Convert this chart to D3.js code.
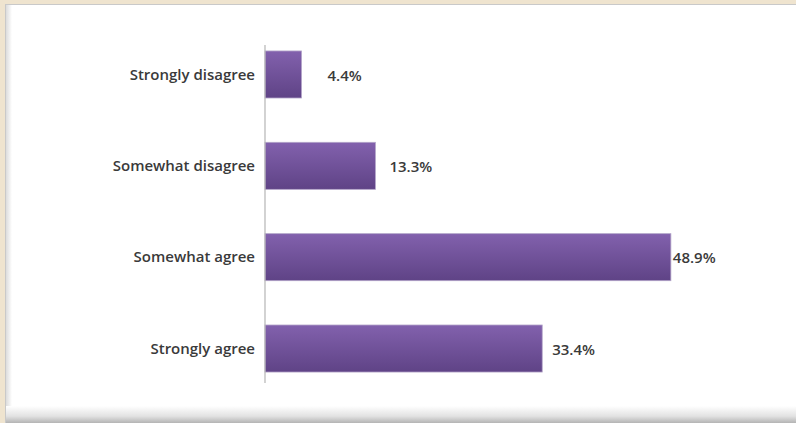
<!DOCTYPE html>
<html>
<head>
<meta charset="utf-8">
<script src="https://cdn.jsdelivr.net/npm/d3@7"></script>
<style>
  html, body { margin: 0; padding: 0; background: #efe4cf; }
  svg { display: block; }
  .cat, .val { font-family: "Open Sans", "Noto Sans", sans-serif; font-weight: 600; fill: #3a3a3a; }
</style>
</head>
<body>
<svg id="chart" width="796" height="423"></svg>
<script>
// Survey responses, share of respondents (%)
const categories = ["Strongly disagree", "Somewhat disagree", "Somewhat agree", "Strongly agree"];
const shares = [4.4, 13.3, 48.9, 33.4];
const valueLabels = ["4.4%", "13.3%", "48.9%", "33.4%"];
// horizontal gap between bar end and its value label (px)
const labelGap = [26, 14, 2, 10];

const W = 796, H = 423;
const svg = d3.select("#chart");
const defs = svg.append("defs");

// bar fill: lighter violet at the top fading to deeper violet
const barGrad = defs.append("linearGradient").attr("id", "barGrad")
  .attr("x1", 0).attr("y1", 0).attr("x2", 0).attr("y2", 1);
barGrad.append("stop").attr("offset", "0%").attr("stop-color", "#8261ad");
barGrad.append("stop").attr("offset", "100%").attr("stop-color", "#5f4386");

// shadow along the bottom of the panel
const shadeGrad = defs.append("linearGradient").attr("id", "shadeGrad")
  .attr("x1", 0).attr("y1", 0).attr("x2", 0).attr("y2", 1);
shadeGrad.append("stop").attr("offset", "0%").attr("stop-color", "#ffffff");
shadeGrad.append("stop").attr("offset", "60%").attr("stop-color", "#e2e2e2");
shadeGrad.append("stop").attr("offset", "100%").attr("stop-color", "#b4b4b4");

// left inner shading of the panel
const leftGrad = defs.append("linearGradient").attr("id", "leftGrad")
  .attr("x1", 0).attr("y1", 0).attr("x2", 1).attr("y2", 0);
leftGrad.append("stop").attr("offset", "0%").attr("stop-color", "#dcdcdc");
leftGrad.append("stop").attr("offset", "100%").attr("stop-color", "#ffffff");

// panel
svg.append("rect").attr("x", 5).attr("y", 4).attr("width", W - 5).attr("height", H - 4)
  .attr("fill", "#c9c9c9");
svg.append("rect").attr("x", 6).attr("y", 5).attr("width", W - 6).attr("height", H - 5)
  .attr("fill", "#ffffff");
svg.append("rect").attr("x", 6).attr("y", 5).attr("width", 6).attr("height", 405)
  .attr("fill", "url(#leftGrad)");
svg.append("rect").attr("x", 6).attr("y", 406).attr("width", W - 6).attr("height", H - 406)
  .attr("fill", "url(#shadeGrad)");

// scales
const x = d3.scaleLinear().domain([0, 50]).range([265, 680]);
const y = d3.scaleBand().domain(categories).range([40, 383])
  .paddingInner(0.485).paddingOuter(0.12);

// bars
svg.append("g").selectAll("rect").data(categories).join("rect")
  .attr("x", x(0))
  .attr("y", d => y(d))
  .attr("width", (d, i) => x(shares[i]) - x(0))
  .attr("height", y.bandwidth())
  .attr("fill", "url(#barGrad)")
  .attr("stroke", "#b3a5c9")
  .attr("stroke-width", 0.8);

// category axis
const yAxis = svg.append("g").attr("transform", `translate(${x(0)},0)`)
  .call(d3.axisLeft(y).tickSize(0).tickPadding(10));
yAxis.select(".domain").remove();
yAxis.selectAll("text").attr("class", "cat").attr("font-size", 15)
  .attr("fill", null).attr("dy", "0.35em");
svg.append("line").attr("x1", x(0)).attr("x2", x(0)).attr("y1", 45).attr("y2", 383)
  .attr("stroke", "#b5b5b5").attr("stroke-width", 1.2);

// value labels
svg.append("g").selectAll("text").data(categories).join("text")
  .attr("class", "val")
  .attr("font-size", 15)
  .attr("x", (d, i) => x(shares[i]) + labelGap[i])
  .attr("y", d => y(d) + y.bandwidth() / 2 + 1)
  .attr("dy", "0.35em")
  .text((d, i) => valueLabels[i]);
</script>
</body>
</html>
